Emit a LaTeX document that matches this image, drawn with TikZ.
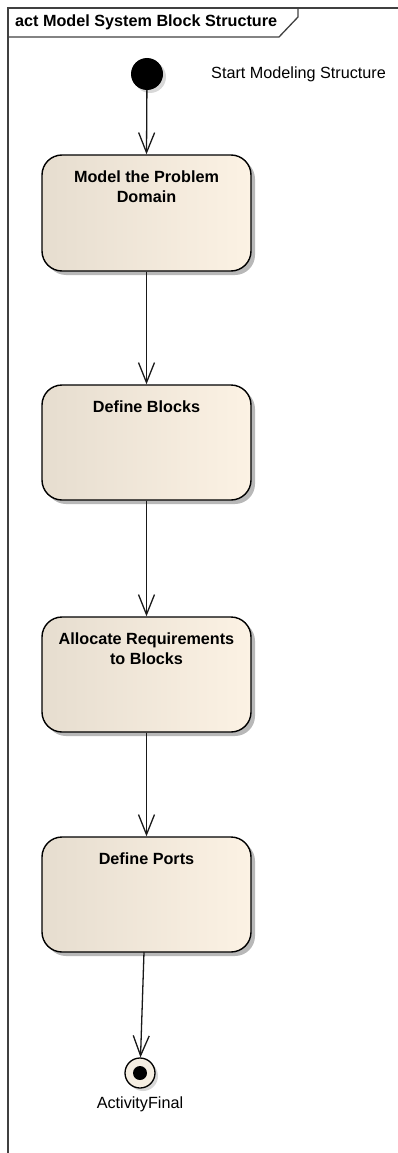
\documentclass[tikz,border=0pt]{standalone}
\usepackage{fontspec}
\setmainfont{Liberation Sans}
\usetikzlibrary{arrows.meta,shadows,positioning}
\definecolor{boxleft}{HTML}{E6DDCF}
\definecolor{boxright}{HTML}{FCF2E4}
\definecolor{finalfill}{HTML}{F5EEE2}
\begin{document}
\begin{tikzpicture}[x=1pt,y=-1pt,
  every node/.style={font=\fontsize{16.2}{19.5}\selectfont},
  actbox/.style={draw=black, line width=1.4pt, rounded corners=20pt,
    minimum width=209pt, inner sep=0pt,
    left color=boxleft, right color=boxright,
    drop shadow={shadow xshift=4pt, shadow yshift=-4pt, fill=black!35, opacity=0.8}},
  acttext/.style={font=\fontsize{16.2}{19.5}\selectfont\bfseries, align=center, inner sep=0pt, anchor=north},
  flow/.style={draw=black!90, line width=1.3pt, -{Straight Barb[length=20pt,width=16pt,line width=1.3pt]}},
  framel/.style={draw=black!75, line width=1.3pt},
]
\useasboundingbox (0,0) rectangle (398,1153);
% frame
\draw[framel] (398,8) -- (8,8) -- (8,1153);
\draw[framel] (8,37) -- (279,37) -- (298,17) -- (298,8);
\node[anchor=west, inner sep=0pt, font=\fontsize{16.2}{19.5}\selectfont\bfseries] (title) at (15,22.5) {act Model System Block Structure};
% start
\node[circle, fill=black, minimum size=32pt, inner sep=0pt,
  drop shadow={shadow xshift=3pt, shadow yshift=-3pt, fill=black!30}] (start) at (147,74) {};
\node[anchor=west, inner sep=0pt] (starttext) at (211,74) {Start Modeling Structure};
% activities
\node[actbox, minimum height=116pt] (b1) at (146.5,213) {};
\node[acttext, below=16.5pt of b1.north] (t1) {Model the Problem\\Domain};
\node[actbox, minimum height=115pt] (b2) at (146.5,442.5) {};
\node[acttext, below=16pt of b2.north] (t2) {Define Blocks};
\node[actbox, minimum height=115pt] (b3) at (146.5,674.5) {};
\node[acttext, below=16.5pt of b3.north] (t3) {Allocate Requirements\\to Blocks};
\node[actbox, minimum height=115pt] (b4) at (146.5,894.5) {};
\node[acttext, below=16pt of b4.north] (t4) {Define Ports};
% final
\node[circle, draw=black, line width=1.3pt, fill=finalfill, minimum size=30pt, inner sep=0pt,
  drop shadow={shadow xshift=3pt, shadow yshift=-3pt, fill=black!30}] (final) at (140,1073) {};
\node[circle, fill=black, minimum size=14pt, inner sep=0pt] (finaldot) at (final.center) {};
\node[anchor=north, inner sep=0pt] (finaltext) at (140,1097) {ActivityFinal};
% connectors
\draw[flow] (start) -- (b1.north);
\draw[flow] (b1.south) -- (b2.north);
\draw[flow] (b2.south) -- (b3.north);
\draw[flow] (b3.south) -- (b4.north);
\coordinate (b4out) at (144,952);
\draw[flow] (b4out) -- (final);
\end{tikzpicture}
\end{document}
